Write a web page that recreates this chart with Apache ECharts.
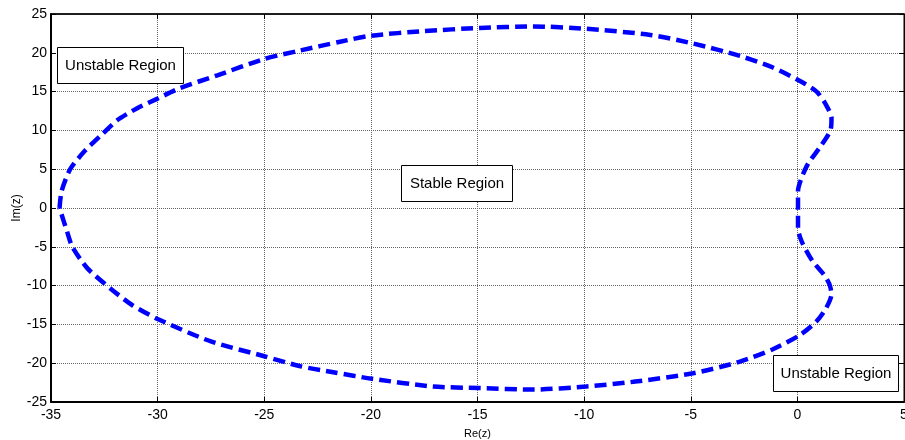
<!DOCTYPE html>
<html><head><meta charset="utf-8">
<script src="https://cdn.jsdelivr.net/npm/echarts@6/dist/echarts.min.js"></script>
<style>html,body{margin:0;padding:0;background:#fff}#c{width:905px;height:440px}</style>
</head><body><div id="c"></div>
<script>
// Boundary of the stability region (Re(z), Im(z)), traced from the leftmost point over the top and back along the bottom
const reZ = [-34.6,-34.5,-34.1,-33.4,-32.6,-31.9,-31,-30,-29,-27.2,-25,-23.3,-21.5,-20,-17.5,-14.9,-12.4,-9.9,-6.9,-4.9,-2.7,-1.15,0.1,0.9,1.3,1.6,1.55,1.05,0.5,0.2,0.03,
  0.03,0.2,0.7,1.25,1.5,1.6,1.35,0.9,0.1,-1.15,-2.7,-4.9,-7.7,-9.9,-12.4,-14.9,-17.1,-19.95,-21.7,-23.3,-25,-27.5,-30,-31.2,-32.2,-33.3,-34,-34.25,-34.6];
const imZ = [0,2.2,5,7.4,9.5,11.3,12.8,14.1,15.4,17.1,19.2,20.3,21.4,22.2,22.8,23.2,23.4,23.1,22.3,21.2,19.6,18.1,16.4,15,13.5,11.6,10,7.8,5.7,3.9,2.2,
  -2.6,-4.3,-6.8,-8.6,-9.8,-11.1,-12.9,-14.6,-16.4,-18.2,-19.8,-21.3,-22.4,-23,-23.4,-23.2,-23,-22,-21.2,-20.4,-19.1,-17.2,-14.3,-12.5,-10.4,-7.75,-5,-3,0];
const xTicks = [-35,-30,-25,-20,-15,-10,-5,0,5];
const yTicks = [-25,-20,-15,-10,-5,0,5,10,15,20,25];
const labels = [
  {text:'Unstable Region', x0:-34.72, x1:-28.8, y0:20.7, y1:16.0},
  {text:'Stable Region', x0:-18.6, x1:-13.4, y0:5.6, y1:0.9},
  {text:'Unstable Region', x0:-1.15, x1:4.7, y0:-18.9, y1:-23.5}
];

const chart = echarts.init(document.getElementById('c'), null, {renderer:'canvas'});
const pts = reZ.map((x,i)=>[x,imZ[i]]);
const font = 'Liberation Sans, Arial, sans-serif';
const axisCommon = {
  axisLine:{show:true,onZero:false,lineStyle:{color:'#000',width:2}},
  axisTick:{show:true,inside:true,length:5,lineStyle:{color:'#000',width:1}},
  splitLine:{show:true,lineStyle:{color:'#666',width:1,type:'dotted'}},
};
const option = {
  animation:false,
  backgroundColor:'#fff',
  grid:{left:51,right:1,top:14,bottom:38,show:true,borderColor:'#000',borderWidth:1,containLabel:false,outerBoundsMode:'none'},
  xAxis:[
    Object.assign({type:'value',min:-35,max:5,interval:5,position:'bottom',
      name:'Re(z)',nameLocation:'middle',nameGap:26,nameMoveOverlap:false,
      nameTextStyle:{fontFamily:font,fontSize:11,color:'#000'},
      axisLabel:{color:'#000',fontFamily:font,fontSize:14,margin:6}},axisCommon),
    {type:'value',min:-35,max:5,interval:5,position:'top',
      axisLine:{show:true,onZero:false,lineStyle:{color:'#000',width:1.5}},
      axisTick:{show:true,inside:true,length:5,lineStyle:{color:'#000'}},
      axisLabel:{show:false},splitLine:{show:false}}
  ],
  yAxis:[
    Object.assign({type:'value',min:-25,max:25,interval:5,position:'left',
      name:'Im(z)',nameLocation:'middle',nameGap:28,nameRotate:90,nameMoveOverlap:false,
      nameTextStyle:{fontFamily:font,fontSize:12,color:'#000'},
      axisLabel:{color:'#000',fontFamily:font,fontSize:14,margin:4}},axisCommon),
    {type:'value',min:-25,max:25,interval:5,position:'right',
      axisLine:{show:true,onZero:false,lineStyle:{color:'#000',width:1}},
      axisTick:{show:true,inside:true,length:5,lineStyle:{color:'#000'}},
      axisLabel:{show:false},splitLine:{show:false}}
  ],
  series:[
    {type:'line',data:pts,showSymbol:false,smooth:0.25,
      lineStyle:{color:'#0000ff',width:4.5,type:[12,6],cap:'butt'},z:3},
    {type:'custom',coordinateSystem:'cartesian2d',data:labels.map((l,i)=>[l.x0,l.y0,l.x1,l.y1,i]),z:5,
      renderItem:function(params,api){
        const p0 = api.coord([api.value(0),api.value(1)]);
        const p1 = api.coord([api.value(2),api.value(3)]);
        const l = labels[api.value(4)];
        const x = Math.round(p0[0])+0.5, y = Math.round(p0[1])+0.5;
        const w = Math.round(p1[0]-p0[0]), h = Math.round(p1[1]-p0[1]);
        return {type:'group',children:[
          {type:'rect',shape:{x:x,y:y,width:w,height:h},style:{fill:'#fff',stroke:'#000',lineWidth:1}},
          {type:'text',style:{text:l.text,x:x+w/2,y:y+h/2,align:'center',verticalAlign:'middle',
            font:'15px '+font,fill:'#000'}}
        ]};
      }}
  ]
};
chart.setOption(option);
</script></body></html>
